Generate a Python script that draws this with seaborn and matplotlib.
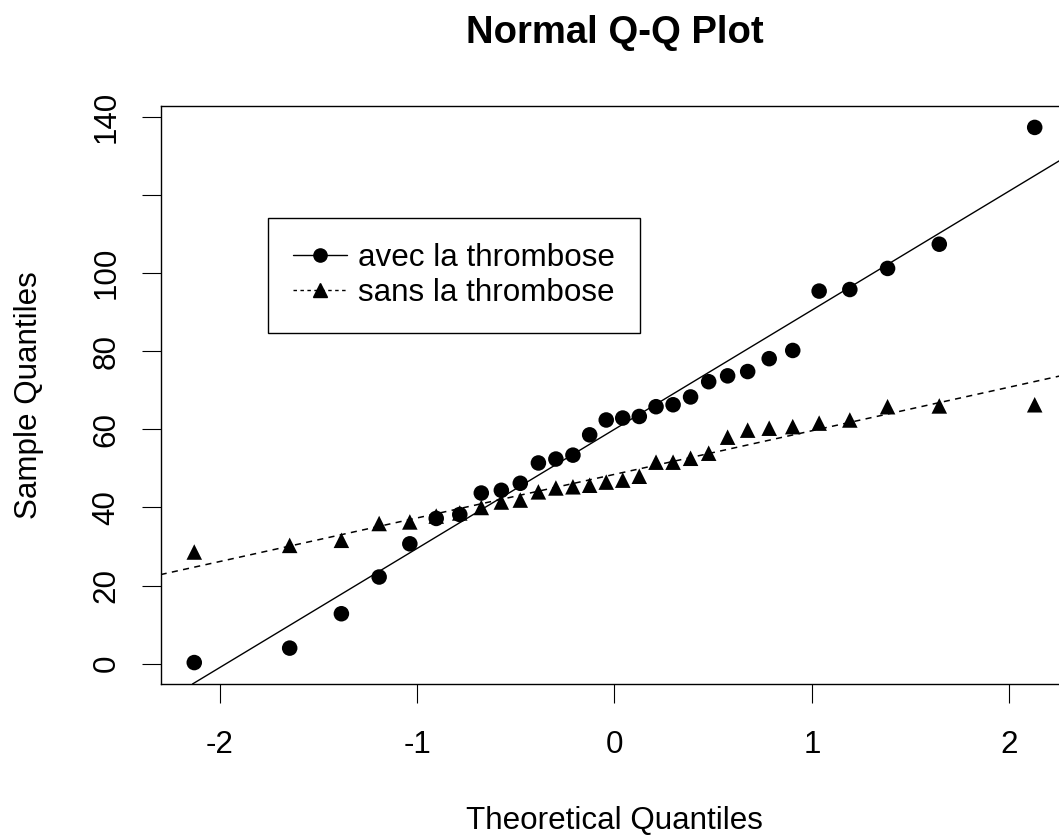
import numpy as np
import pandas as pd
import matplotlib
matplotlib.use("Agg")
import matplotlib.pyplot as plt
import seaborn as sns
from matplotlib.lines import Line2D
from statistics import NormalDist

# sorted sample values
avec = [0.3, 4.0, 12.8, 22.2, 30.7, 37.2, 38.2, 43.7, 44.4, 46.2,
        51.4, 52.4, 53.4, 58.6, 62.4, 62.9, 63.3, 65.8, 66.3, 68.3,
        72.2, 73.7, 74.8, 78.1, 80.2, 95.4, 95.8, 101.2, 107.4, 137.3]
sans = [28.6, 30.3, 31.6, 35.9, 36.3, 37.8, 38.6, 40.0, 41.4, 41.9,
        44.0, 45.0, 45.3, 45.7, 46.5, 47.0, 48.0, 51.6, 51.6, 52.6,
        53.9, 58.0, 59.8, 60.3, 60.7, 61.6, 62.4, 65.8, 66.0, 66.3]
groups = ["avec la thrombose", "sans la thrombose"]
x_ticks = [-2, -1, 0, 1, 2]
y_ticks = [0, 20, 40, 60, 80, 100, 120, 140]
y_tick_labels = ["0", "20", "40", "60", "80", "100", "", "140"]

# theoretical quantiles like R's qqnorm (ppoints, a = 0.5)
n = len(avec)
theo = [NormalDist().inv_cdf((i - 0.5) / n) for i in range(1, n + 1)]

df = pd.DataFrame({
    "theo": theo + theo,
    "value": avec + sans,
    "groupe": [groups[0]] * n + [groups[1]] * n,
})

sns.set_theme(style="ticks", rc={
    "axes.edgecolor": "black", "text.color": "black", "axes.labelcolor": "black",
    "xtick.color": "black", "ytick.color": "black", "axes.linewidth": 1.0,
    "axes.unicode_minus": False,
})
plt.rcParams["font.family"] = ["Liberation Sans", "DejaVu Sans"]

fs = 22.6
fig = plt.figure(figsize=(10.59, 8.38), dpi=100)
ax = fig.add_axes([0.1517, 0.1838, 0.8571, 0.6897])

sns.scatterplot(data=df, x="theo", y="value", style="groupe",
                markers={groups[0]: "o", groups[1]: "^"},
                color="black", s=125, linewidth=0, legend=False, ax=ax)

# reference lines: intercept = mean, slope = sd
ax.axline((0, np.mean(avec)), slope=np.std(avec, ddof=1), color="black", lw=1.0, linestyle="-")
ax.axline((0, np.mean(sans)), slope=np.std(sans, ddof=1), color="black", lw=1.1, linestyle=(0, (4, 3.5)))

# R style 4% padding
xr = max(theo) - min(theo)
ax.set_xlim(min(theo) - 0.04 * xr, max(theo) + 0.04 * xr)
allv = avec + sans
yr = max(allv) - min(allv)
ax.set_ylim(min(allv) - 0.04 * yr, max(allv) + 0.04 * yr)

ax.set_xticks(x_ticks)
ax.set_yticks(y_ticks, labels=y_tick_labels)
ax.tick_params(axis="both", direction="out", length=13.7, width=0.8, labelsize=fs)
ax.tick_params(axis="x", pad=19.4)
ax.tick_params(axis="y", pad=14.4, labelrotation=90)
for lab in ax.get_yticklabels():
    lab.set_va("center")

ax.set_xlabel("Theoretical Quantiles", fontsize=fs, labelpad=33)
ax.set_ylabel("Sample Quantiles", fontsize=fs, labelpad=34.6)
ax.set_title("Normal Q-Q Plot", fontsize=27.5, fontweight="bold", pad=45.5)

handles = [
    Line2D([], [], color="black", marker="o", linestyle="-", lw=1.0, markersize=9.5),
    Line2D([], [], color="black", marker="^", linestyle=(0, (2.5, 2.5)), lw=1.0, markersize=9.5),
]
leg = ax.legend(handles, groups, loc="upper left",
                bbox_to_anchor=(268.3 / 1059, 1 - 218.3 / 838), bbox_transform=fig.transFigure,
                borderaxespad=0, frameon=True, fancybox=False, edgecolor="black",
                framealpha=1, fontsize=fs, borderpad=0.8, handlelength=1.7,
                handletextpad=0.35, labelspacing=0.15)
leg.get_frame().set_linewidth(1.0)

fig.savefig("out.png", dpi=100)
